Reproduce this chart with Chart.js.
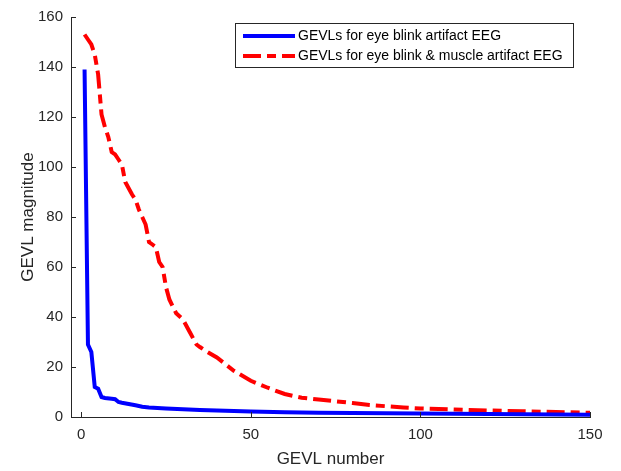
<!DOCTYPE html>
<html>
<head>
<meta charset="utf-8">
<script src="https://cdn.jsdelivr.net/npm/chart.js@4.4.1/dist/chart.umd.min.js"></script>
<style>
  html, body { margin: 0; padding: 0; background: #fff; }
  #wrap { width: 621px; height: 471px; }
</style>
</head>
<body>
<div id="wrap"><canvas id="gevlChart" width="621" height="471"></canvas></div>
<script>
// GEVL curves (x = GEVL number, y = magnitude)
var blinkX = [1, 2, 3, 4, 5, 6, 7, 9, 10, 11, 12, 14, 16, 18, 20, 25, 30, 35, 40, 50, 60, 70, 80, 90, 100, 110, 120, 130, 140, 150];
var blinkY = [139, 29, 26, 12, 11.3, 8, 7.6, 7.3, 7.1, 6, 5.7, 5.2, 4.7, 4.1, 3.8, 3.4, 3.1, 2.8, 2.6, 2.2, 1.9, 1.7, 1.6, 1.5, 1.4, 1.3, 1.2, 1.1, 1.0, 0.9];

var muscleX = [1, 2, 3, 4, 5, 6, 7, 8, 9, 10, 11, 12, 13, 15, 16, 17, 18, 19, 20, 21, 22, 23, 24, 25, 26, 28, 30, 32, 34, 35, 37, 40, 45, 50, 55, 60, 65, 70, 75, 80, 85, 90, 95, 100, 110, 120, 130, 140, 150];
var muscleY = [153, 151, 149, 145, 137, 121, 116, 112, 106, 105, 103, 101, 94, 89, 87, 83, 80, 77, 70, 69, 68, 62, 60, 52, 47, 41.5, 39, 34, 29, 28, 26.2, 23.8, 18.5, 14.5, 11.7, 9.2, 7.7, 7, 6.3, 5.6, 4.8, 4.3, 3.8, 3.4, 3, 2.6, 2.3, 2, 1.7];

var xTicks = [0, 50, 100, 150];
var seriesNames = ['GEVLs for eye blink artifact EEG', 'GEVLs for eye blink & muscle artifact EEG'];

function toPoints(xs, ys) {
  return xs.map(function (x, i) { return { x: x, y: ys[i] }; });
}

var axisColor = '#262626';
var fontFamily = '"Liberation Sans", Arial, Helvetica, sans-serif';

// MATLAB-style inward ticks
var innerTicks = {
  id: 'innerTicks',
  afterDraw: function (chart) {
    var ctx = chart.ctx, a = chart.chartArea;
    var xs = chart.scales.x, ys = chart.scales.y;
    ctx.save();
    ctx.strokeStyle = axisColor;
    ctx.lineWidth = 1;
    ctx.beginPath();
    xs.ticks.forEach(function (t) {
      var px = Math.round(xs.getPixelForValue(t.value)) + 0.5;
      ctx.moveTo(px, a.bottom);
      ctx.lineTo(px, a.bottom - 5);
    });
    ys.ticks.forEach(function (t) {
      var py = Math.round(ys.getPixelForValue(t.value)) + 0.5;
      ctx.moveTo(a.left, py);
      ctx.lineTo(a.left + 5, py);
    });
    ctx.stroke();
    ctx.restore();
  }
};

// boxed legend in the upper right
var boxLegend = {
  id: 'boxLegend',
  afterDraw: function (chart) {
    var ctx = chart.ctx;
    var bx = 235, by = 23, bw = 338, bh = 44;
    ctx.save();
    ctx.fillStyle = '#fff';
    ctx.fillRect(bx, by, bw, bh);
    ctx.strokeStyle = axisColor;
    ctx.lineWidth = 1;
    ctx.strokeRect(bx + 0.5, by + 0.5, bw, bh);
    ctx.font = '14px ' + fontFamily;
    ctx.textBaseline = 'middle';
    chart.data.datasets.forEach(function (ds, i) {
      var yy = 36 + i * 20;
      ctx.strokeStyle = ds.borderColor;
      ctx.lineWidth = 4;
      ctx.setLineDash(ds.borderDash || []);
      ctx.beginPath();
      ctx.moveTo(243, yy);
      ctx.lineTo(295, yy);
      ctx.stroke();
      ctx.setLineDash([]);
      ctx.fillStyle = '#000';
      ctx.fillText(ds.label, 298, yy);
    });
    ctx.restore();
  }
};

var ctx = document.getElementById('gevlChart').getContext('2d');
var gevlChart = new Chart(ctx, {
  type: 'line',
  data: {
    datasets: [
      {
        label: seriesNames[0],
        data: toPoints(blinkX, blinkY),
        borderColor: '#0000ff',
        borderWidth: 4,
        pointRadius: 0,
        tension: 0,
        fill: false
      },
      {
        label: seriesNames[1],
        data: toPoints(muscleX, muscleY),
        borderColor: '#ff0000',
        borderWidth: 4,
        borderDash: [18, 6, 9, 6],
        borderCapStyle: 'butt',
        pointRadius: 0,
        tension: 0,
        fill: false
      }
    ]
  },
  options: {
    responsive: false,
    animation: false,
    layout: { padding: { top: 7, right: 31, left: 0, bottom: 0 } },
    plugins: {
      legend: { display: false },
      tooltip: { enabled: false }
    },
    scales: {
      x: {
        type: 'linear',
        min: -3,
        max: 150,
        afterBuildTicks: function (s) { s.ticks = xTicks.map(function (v) { return { value: v }; }); },
        afterFit: function (s) { s.height = 54; },
        grid: { display: false, drawTicks: false },
        border: { display: true, color: axisColor, width: 1 },
        ticks: { color: axisColor, font: { size: 15, family: fontFamily }, padding: 9, maxRotation: 0 },
        title: { display: true, text: 'GEVL number', color: axisColor, font: { size: 17, family: fontFamily }, padding: { top: 0, bottom: 1 } }
      },
      y: {
        min: 0,
        max: 160,
        afterFit: function (s) { s.width = 71; },
        grid: { display: false, drawTicks: false },
        border: { display: true, color: axisColor, width: 1 },
        ticks: { stepSize: 20, color: axisColor, font: { size: 15, family: fontFamily }, padding: 8 },
        title: { display: true, text: 'GEVL magnitude', color: axisColor, font: { size: 17, family: fontFamily }, padding: { top: 18, bottom: 0 } }
      }
    }
  },
  plugins: [innerTicks, boxLegend]
});
</script>
</body>
</html>
